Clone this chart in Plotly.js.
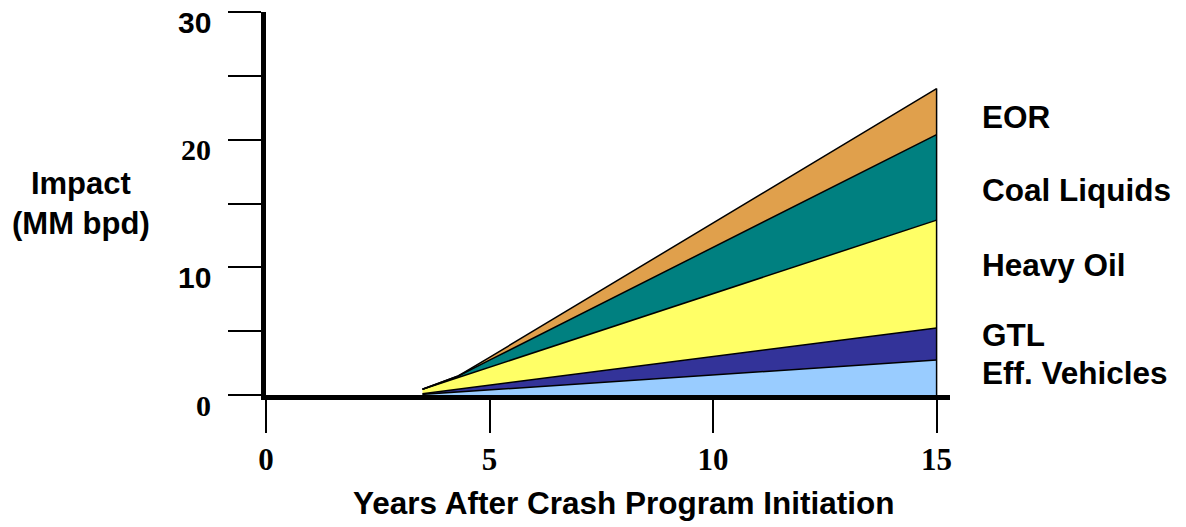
<!DOCTYPE html>
<html>
<head>
<meta charset="utf-8">
<script src="https://cdn.plot.ly/plotly-3.0.1.min.js"></script>
<style>html,body{margin:0;padding:0;background:#fff;}#chart{width:1186px;height:527px;}</style>
</head>
<body>
<div id="chart"></div>
<script>
// ---- data ----
var years = [3.5, 4.3, 5, 15];
var seriesNames = ["Eff. Vehicles", "GTL", "Heavy Oil", "Coal Liquids", "EOR"];
var effVehicles = [0.05, 0.24, 0.40, 2.74];
var gtl         = [0.05, 0.22, 0.37, 2.51];
var heavyOil    = [0.35, 0.91, 1.41, 8.45];
var coalLiquids = [0.00, 0.12, 0.55, 6.70];
var eor         = [0.00, 0.00, 0.22, 3.60];
var xTickVals = [0, 5, 10, 15];
var xTickText = ["0", "5", "10", "15"];
var yTickVals = [0, 5, 10, 15, 20, 25, 30];
var yLabelVals = [0, 10, 20, 30];
var yLabelText = ["0", "10", "20", "30"];

// ---- styles / positions ----
var colors = ["#99CCFF", "#333399", "#FFFF66", "#008080", "#E0A04C"];
var yLabelFonts = ["Liberation Serif", "Liberation Sans", "Liberation Serif", "Liberation Sans"];
var seriesLabelY = [1.72, 4.7, 10.2, 16.05, 21.8];

var values = [effVehicles, gtl, heavyOil, coalLiquids, eor];
var traces = values.map(function (v, i) {
  return {
    type: "scatter", mode: "lines", x: years, y: v, name: seriesNames[i],
    stackgroup: "s", fillcolor: colors[i],
    line: {color: "#000", width: 1.5, shape: "linear"},
    hoverinfo: "skip"
  };
});
// closing vertical edge at the last year (from the stacked total)
var last = years.length - 1;
var total = values.reduce(function (s, v) { return s + v[last]; }, 0);
traces.push({
  type: "scatter", mode: "lines", x: [years[last], years[last]], y: [0, total],
  line: {color: "#000", width: 1.5}, hoverinfo: "skip", showlegend: false
});

var annotations = [];
yLabelVals.forEach(function (v, i) {
  annotations.push({
    xref: "paper", yref: "y", x: 0, y: v, xanchor: "right", yanchor: "middle",
    xshift: -53, yshift: -10, showarrow: false, text: yLabelText[i],
    font: {family: yLabelFonts[i], size: 30, color: "#000", weight: "bold"}
  });
});
seriesNames.forEach(function (n, i) {
  annotations.push({
    xref: "x", yref: "y", x: 15, y: seriesLabelY[i], xanchor: "left", yanchor: "middle",
    xshift: 43, showarrow: false, text: n,
    font: {family: "Liberation Sans", size: 31.5, color: "#000", weight: "bold"}
  });
});
annotations.push({
  xref: "paper", yref: "paper", x: -0.270, y: 0.501, xanchor: "center", yanchor: "middle",
  showarrow: false, text: "Impact<br>(MM bpd)", align: "center",
  font: {family: "Liberation Sans", size: 31, color: "#000", weight: "bold"}
});
annotations.push({
  xref: "paper", yref: "paper", x: 0.523, y: -0.282, xanchor: "center", yanchor: "middle",
  showarrow: false, text: "Years After Crash Program Initiation",
  font: {family: "Liberation Sans", size: 31.5, color: "#000", weight: "bold"}
});

var layout = {
  width: 1186, height: 527,
  margin: {l: 266, r: 236, t: 12, b: 132, pad: 0},
  paper_bgcolor: "#fff", plot_bgcolor: "#fff",
  showlegend: false,
  xaxis: {
    range: [0, 15.3], showgrid: false, zeroline: false,
    showline: true, linecolor: "#000", linewidth: 5,
    ticks: "outside", ticklen: 33, tickwidth: 2, tickcolor: "#000",
    tickvals: xTickVals, ticktext: xTickText, ticklabelstandoff: 0,
    tickfont: {family: "Liberation Serif", size: 31, color: "#000", weight: "bold"},
    fixedrange: true
  },
  yaxis: {
    range: [0, 30], showgrid: false, zeroline: false,
    showline: true, linecolor: "#000", linewidth: 5,
    ticks: "outside", ticklen: 33, tickwidth: 2, tickcolor: "#000",
    tickvals: yTickVals, showticklabels: false,
    fixedrange: true
  },
  annotations: annotations
};

Plotly.newPlot("chart", traces, layout, {displayModeBar: false, staticPlot: true});
</script>
</body>
</html>
